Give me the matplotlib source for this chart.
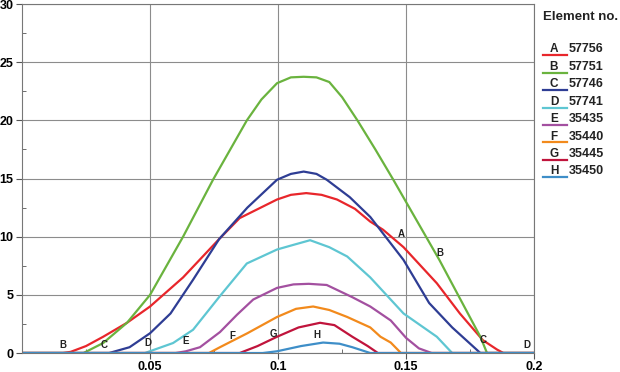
import matplotlib.pyplot as plt
from matplotlib.ticker import MultipleLocator

plt.rcParams['font.family'] = ['Liberation Sans', 'DejaVu Sans']

# series data
a_x = [0, 0.016, 0.019, 0.025, 0.0317, 0.041, 0.05, 0.0629, 0.077, 0.085, 0.0996, 0.105, 0.111,
       0.117, 0.123, 0.13, 0.136, 0.141, 0.149, 0.162, 0.171, 0.18, 0.1855, 0.188, 0.2]
a_y = [0, 0, 0.1, 0.6, 1.4, 2.6, 4.0, 6.5, 9.8, 11.6, 13.2, 13.6, 13.75,
       13.6, 13.2, 12.4, 11.3, 10.6, 9.1, 6.0, 3.4, 1.1, 0.3, 0, 0]

b_x = [0, 0.024, 0.0317, 0.041, 0.05, 0.0629, 0.0746, 0.0878, 0.0935, 0.0996, 0.105, 0.11,
       0.115, 0.12, 0.125, 0.131, 0.138, 0.145, 0.163, 0.179, 0.1816, 0.2]
b_y = [0, 0, 0.86, 2.6, 5.0, 10.0, 14.9, 20.0, 21.8, 23.2, 23.7, 23.75,
       23.7, 23.3, 22.0, 20.0, 17.5, 14.9, 8.0, 1.4, 0, 0]

c_x = [0, 0.034, 0.042, 0.05, 0.058, 0.0668, 0.077, 0.088, 0.0996, 0.105, 0.11, 0.115,
       0.119, 0.128, 0.136, 0.149, 0.159, 0.168, 0.179, 0.2]
c_y = [0, 0, 0.5, 1.7, 3.4, 6.3, 9.8, 12.5, 14.9, 15.4, 15.6, 15.4,
       14.9, 13.4, 11.7, 8.0, 4.3, 2.2, 0, 0]

d_x = [0, 0.048, 0.059, 0.0668, 0.0773, 0.0878, 0.0996, 0.106, 0.1125, 0.12, 0.127, 0.136,
       0.149, 0.162, 0.168, 0.2]
d_y = [0, 0, 0.86, 2.0, 4.9, 7.7, 8.9, 9.3, 9.7, 9.1, 8.3, 6.5,
       3.4, 1.4, 0, 0]

e_x = [0, 0.06, 0.064, 0.0695, 0.0773, 0.084, 0.0903, 0.0996, 0.106, 0.112, 0.119, 0.129,
       0.136, 0.144, 0.15, 0.155, 0.16, 0.2]
e_y = [0, 0, 0.15, 0.5, 1.8, 3.3, 4.6, 5.6, 5.9, 5.95, 5.85, 4.8,
       4.0, 2.8, 1.3, 0.4, 0, 0]

f_x = [0, 0.073, 0.0773, 0.088, 0.0996, 0.107, 0.1137, 0.12, 0.127, 0.136, 0.14, 0.144, 0.148, 0.2]
f_y = [0, 0, 0.5, 1.7, 3.1, 3.8, 4.0, 3.7, 3.1, 2.2, 1.4, 0.9, 0, 0]

g_x = [0, 0.085, 0.092, 0.0996, 0.108, 0.1164, 0.122, 0.129, 0.135, 0.139, 0.2]
g_y = [0, 0, 0.6, 1.4, 2.2, 2.6, 2.4, 1.4, 0.6, 0, 0]

h_x = [0, 0.094, 0.0996, 0.109, 0.1176, 0.124, 0.129, 0.136, 0.2]
h_y = [0, 0, 0.15, 0.6, 0.9, 0.8, 0.5, 0, 0]

letters = ['A', 'B', 'C', 'D', 'E', 'F', 'G', 'H']
elements = ['57756', '57751', '57746', '57741', '35435', '35440', '35445', '35450']
colors = ['#e8262b', '#6ab33e', '#2e3d94', '#5ec6d2', '#a350a0', '#f28a1c', '#c0143c', '#3e8ec8']
series_x = [a_x, b_x, c_x, d_x, e_x, f_x, g_x, h_x]
series_y = [a_y, b_y, c_y, d_y, e_y, f_y, g_y, h_y]

# curve labels on the chart
label_txt = ['B', 'C', 'D', 'E', 'F', 'G', 'H', 'A', 'B', 'C', 'D']
label_x = [0.016, 0.032, 0.049, 0.064, 0.082, 0.098, 0.115, 0.148, 0.163, 0.180, 0.197]
label_y = [0.3, 0.3, 0.4, 0.6, 1.0, 1.2, 1.1, 9.8, 8.2, 0.7, 0.3]

fig = plt.figure(figsize=(6.2, 3.72), dpi=100)
ax = fig.add_axes([0.0355, 0.051, 0.826, 0.938])

for xs, ys, col in zip(series_x, series_y, colors):
    ax.plot(xs, ys, color=col, lw=1.6, solid_capstyle='round', solid_joinstyle='round')

for t, x, y in zip(label_txt, label_x, label_y):
    ax.text(x, y, t, fontsize=7, fontweight='bold', ha='center', va='bottom', color='#222222')

ax.set_xlim(0, 0.2)
ax.set_ylim(0, 30)
ax.set_xticks([0.05, 0.1, 0.15, 0.2])
ax.set_xticklabels(['0.05', '0.1', '0.15', '0.2'])
ax.set_yticks(range(0, 31, 5))
ax.xaxis.set_minor_locator(MultipleLocator(0.025))
ax.yaxis.set_minor_locator(MultipleLocator(2.5))
ax.grid(True, which='major', color='#8c8c8c', lw=0.8)
ax.tick_params(which='major', direction='out', length=4, color='#555555', labelsize=9, pad=2)
ax.tick_params(which='minor', direction='in', length=3, color='#555555')
for lbl in ax.get_xticklabels() + ax.get_yticklabels():
    lbl.set_fontweight('bold')
for s in ax.spines.values():
    s.set_color('#777777')
    s.set_linewidth(0.8)
ax.set_axisbelow(True)

# legend drawn by hand: letter sitting on the coloured line, then element number
fig.text(0.876, 0.955, 'Element no.', fontsize=9.5, fontweight='bold', va='center', color='#222222')
for i, (let, el, col) in enumerate(zip(letters, elements, colors)):
    yf = 0.867 - i * 0.0468
    fig.lines.append(plt.Line2D([0.876, 0.915], [yf - 0.016, yf - 0.016], transform=fig.transFigure,
                                color=col, lw=1.6))
    fig.text(0.8935, yf, let, fontsize=8.5, fontweight='bold', ha='center', va='center', color='#222222')
    fig.text(0.917, yf, el, fontsize=9, fontweight='bold', va='center', color='#222222')

fig.savefig('out.png', dpi=100)
